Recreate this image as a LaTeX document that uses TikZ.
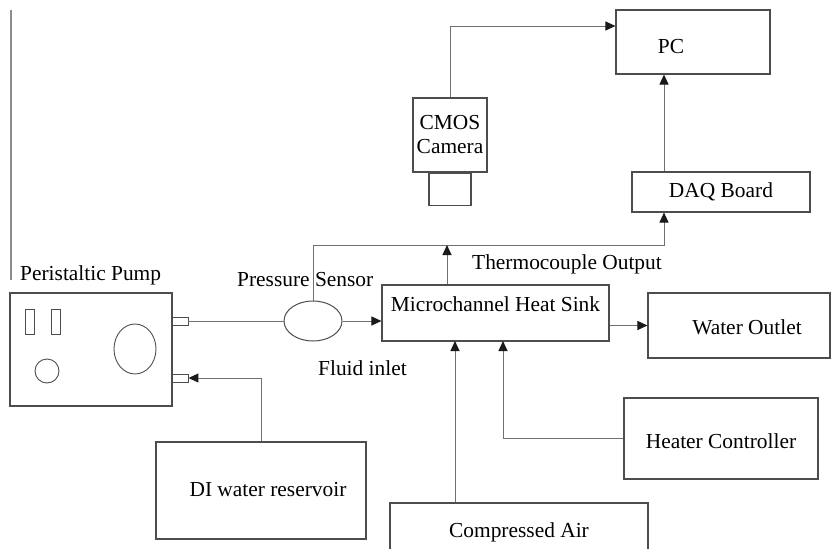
\documentclass[tikz,border=0pt]{standalone}
\usepackage{fontspec}
\setmainfont{Liberation Serif}
\usetikzlibrary{arrows.meta,positioning,shapes.geometric}
\definecolor{boxclr}{HTML}{4D4D4D}
\definecolor{lineclr}{HTML}{707070}
\definecolor{tipclr}{HTML}{1A1A1A}

\tikzset{
  unit/.style={draw=boxclr, line width=1.1pt, inner sep=0pt,
               font=\fontsize{21.4}{24}\selectfont},
  port/.style={draw=boxclr, line width=0.9pt, inner sep=0pt,
               minimum width=16pt, minimum height=8pt},
  link/.style={lineclr, line width=1pt},
  flow/.style={link, -{Triangle[length=10pt,width=9pt,color=tipclr]}},
  txt/.style={font=\fontsize{21.4}{24}\selectfont, inner sep=0pt},
}

\begin{document}
\begin{tikzpicture}[x=1pt, y=-1pt]

\clip (0,0) rectangle (831,549);

% --- stray margin line on the left ---------------------------------------
\draw[lineclr!80, line width=1.4pt] (11,10) -- (11,280);

% --- pump body and its dials --------------------------------------------
\node[unit, minimum width=162pt, minimum height=113pt] (pump) at (91,349.5) {};
\draw[boxclr, line width=0.9pt] (25,309) rectangle (34,334);
\draw[boxclr, line width=0.9pt] (51,309) rectangle (60,334);
\draw[boxclr, line width=0.9pt] (47,371) circle (12);
\draw[boxclr, line width=0.9pt] (135,349) ellipse (21 and 25);
\node[port] (portA) at (180,321) {};
\node[port] (portB) at (180,378) {};
\node[txt, anchor=base west] (pumpLbl) at (20,280) {Peristaltic Pump};

% --- sensor and heat sink -----------------------------------------------
\node[draw=boxclr, line width=1pt, ellipse, inner sep=0pt,
      minimum width=58pt, minimum height=40pt] (sensor) at (313,321) {};
\node[txt, anchor=base west] (sensorLbl) at (237,286) {Pressure Sensor};
\node[txt, anchor=base west] (inletLbl) at (318,375) {Fluid inlet};

\node[unit, minimum width=227pt, text height=26pt, text depth=30pt]
  (mhs) at (495.5,313) {Microchannel Heat Sink};
\node[unit, minimum width=182pt, text height=41pt, text depth=24pt]
  (outlet) at (739,325.5) {\hspace*{16pt}Water Outlet};
\node[unit, minimum width=194pt, text height=50pt, text depth=31pt]
  (heater) at (721,438.5) {Heater Controller};
\node[unit, minimum width=258pt, text height=34pt, text depth=26pt]
  (air) at (519,533) {Compressed Air};
\node[unit, minimum width=210pt, text height=54pt, text depth=43pt]
  (res) at (261,490.5) {\hspace*{14pt}DI water reservoir};

% --- acquisition side ---------------------------------------------------
\node[unit, minimum width=178pt, text height=25pt, text depth=15pt]
  (daq) at (721,192) {DAQ Board};
\node[unit, minimum width=154pt, minimum height=64pt] (pc) at (693,42) {};
\node[txt, anchor=base] (pcLbl) at (671,53) {PC};
\node[unit, minimum width=74pt, minimum height=74pt, align=center,
      font=\fontsize{21.4}{24}\selectfont] (cam) at (450,135) {CMOS\\Camera};
\node[unit, minimum width=42pt, minimum height=32pt, below=0pt of cam] (lens) {};
\node[txt, anchor=base west] (tcLbl) at (472,269) {Thermocouple Output};

\coordinate (tcM) at (447,245);
\coordinate (tcR) at (664,245);
\coordinate (camT) at (450,26);
\coordinate (heatIn) at (503,341);
\coordinate (airIn) at (455,341);

% --- fluid loop ----------------------------------------------------------
\draw[link] (portA.east) -- (sensor.west);
\draw[flow] (sensor.east) -- (sensor.east -| mhs.west);
\draw[flow] (res.north) |- (portB.east);
\draw[flow] (mhs.east |- outlet.west) -- (outlet.west);
\draw[flow] (heater.west) -| (heatIn);
\draw[flow] (airIn |- air.north) -- (airIn);

% --- signals -------------------------------------------------------------
\draw[flow] (sensor.north) |- (tcR) -- (tcR |- daq.south);
\draw[flow] (tcM |- mhs.north) -- (tcM);
\draw[flow] (tcR |- daq.north) -- (tcR |- pc.south);
\draw[flow] (cam.north) -- (camT) -- (camT -| pc.west);

\end{tikzpicture}
\end{document}
